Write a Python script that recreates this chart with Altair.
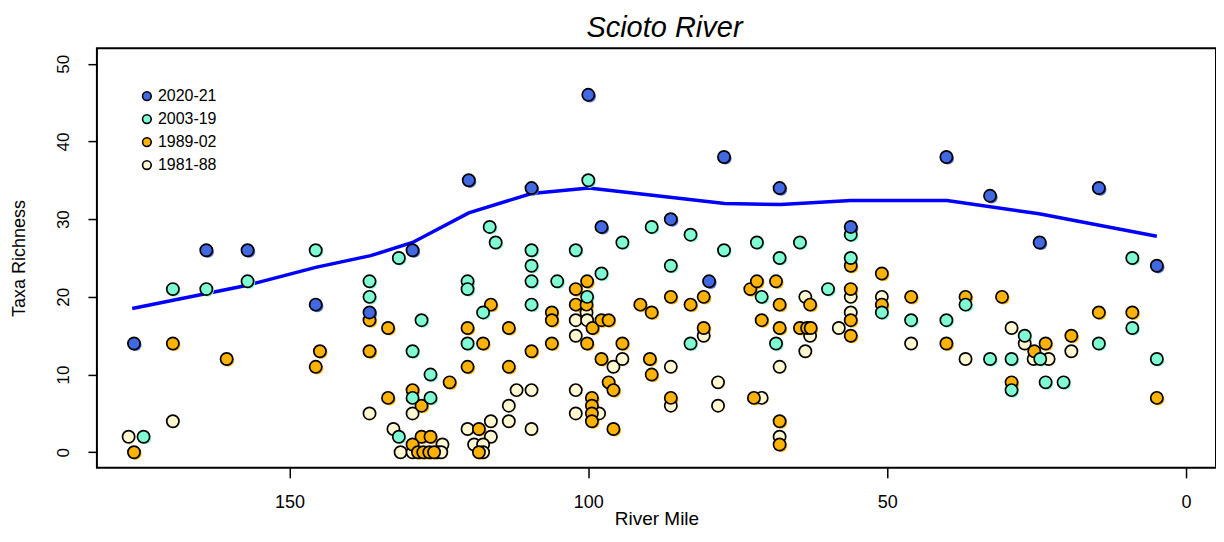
import altair as alt
import pandas as pd

groups = ["2020-21", "2003-19", "1989-02", "1981-88"]
colors = ["#4169E1", "#7FFFD4", "#FFB300", "#FFF8D0"]

x_ticks = [0, 50, 100, 150]
y_ticks = [0, 10, 20, 30, 40, 50]

# 2020-21
blue_mile = [176.0, 163.9, 157.0, 145.6, 136.6, 129.4, 120.0, 109.5, 100.0, 97.8,
             86.2, 79.8, 77.3, 68.0, 56.1, 40.1, 32.8, 24.5, 14.6, 4.9]
blue_val = [14, 26, 26, 19, 18, 26, 35, 34, 46, 29,
            30, 22, 38, 34, 29, 38, 33, 27, 34, 24]

# 2003-19
aqua_mile = [174.4, 169.5, 163.9, 157.0, 145.6, 136.6, 136.6, 131.7, 131.7, 127.9,
             129.4, 129.4, 126.4, 126.4, 120.2, 120.2, 117.6, 120.2, 116.5, 115.5,
             109.5, 109.5, 109.5, 109.5, 105.2, 102.1, 100.0, 100.2, 97.8, 94.3,
             89.4, 86.2, 82.9, 82.9, 77.3, 71.8, 71.0, 68.0, 68.6, 64.6,
             59.9, 56.1, 56.1, 50.9, 46.0, 40.1, 36.9, 32.8, 29.2, 29.2,
             27.0, 24.4, 23.5, 20.5, 14.6, 9.0, 9.0, 4.9]
aqua_val = [2, 21, 21, 22, 26, 22, 20, 25, 2, 17,
            13, 7, 10, 7, 22, 21, 18, 14, 29, 27,
            26, 24, 22, 19, 22, 26, 35, 20, 23, 27,
            29, 24, 28, 14, 26, 27, 20, 25, 14, 27,
            21, 28, 25, 18, 17, 17, 19, 12, 12, 8,
            15, 12, 9, 9, 14, 25, 16, 12]

# 1989-02
orange_mile = [176.0, 169.5, 160.5, 144.9, 145.6, 136.6, 136.6, 133.5, 133.5, 129.4,
               127.9, 127.9, 129.4, 126.4, 128.5, 127.6, 126.6, 125.8, 123.2, 120.2,
               120.2, 117.6, 116.3, 118.3, 118.3, 113.3, 113.3, 109.5, 106.1, 106.1,
               106.1, 102.1, 102.1, 100.2, 100.3, 99.3, 100.2, 99.4, 99.4, 99.4,
               99.4, 97.8, 96.6, 97.8, 96.6, 95.8, 95.8, 94.3, 91.3, 89.4,
               89.7, 89.4, 86.2, 86.2, 82.9, 80.7, 80.7, 72.9, 71.8, 68.6,
               71.0, 72.3, 68.0, 68.0, 68.0, 68.0, 64.6, 63.4, 62.8, 62.9,
               56.1, 56.1, 56.1, 56.1, 50.9, 50.9, 46.0, 40.1, 36.9, 30.8,
               29.2, 25.4, 23.5, 19.2, 14.6, 9.0, 4.9]
orange_val = [0, 14, 12, 13, 11, 17, 13, 16, 7, 8,
              6, 2, 1, 2, 0, 0, 0, 0, 9, 16,
              11, 14, 19, 3, 0, 16, 11, 13, 18, 17,
              14, 21, 19, 22, 19, 16, 14, 7, 6, 5,
              4, 17, 17, 12, 9, 8, 3, 14, 19, 18,
              12, 10, 20, 7, 19, 20, 16, 21, 22, 22,
              17, 7, 19, 16, 4, 1, 16, 16, 16, 19,
              24, 21, 17, 15, 23, 19, 20, 14, 20, 20,
              9, 13, 14, 15, 18, 18, 7]

# 1981-88
cream_mile = [176.9, 169.5, 136.6, 132.6, 131.4, 129.4, 129.4, 124.4, 125.2, 124.6,
              120.2, 116.3, 116.3, 119.1, 117.6, 117.6, 112.0, 109.5, 113.3, 113.3,
              109.5, 102.1, 102.1, 102.1, 102.1, 100.3, 100.2, 98.2, 95.8, 94.3,
              86.2, 86.2, 80.7, 78.3, 78.3, 71.0, 68.0, 68.0, 63.7, 62.9,
              63.7, 58.1, 56.1, 56.1, 50.9, 46.0, 36.9, 29.2, 27.0, 25.5,
              23.0, 19.2]
cream_val = [2, 4, 5, 3, 0, 5, 0, 1, 0, 0,
             3, 4, 2, 1, 1, 0, 8, 8, 6, 4,
             3, 17, 15, 8, 5, 18, 17, 5, 11, 12,
             11, 6, 15, 9, 6, 7, 11, 2, 20, 15,
             13, 16, 20, 18, 20, 14, 12, 16, 14, 12,
             12, 13]

line_mile = [176.3, 157.0, 145.6, 136.4, 129.4, 120.0, 109.5, 99.9, 77.2, 67.8,
             56.1, 40.0, 24.6, 4.9]
line_val = [18.5, 21.5, 23.8, 25.3, 27.0, 30.8, 33.3, 34.0, 32.0, 31.9,
            32.4, 32.4, 30.7, 27.8]

rows = []
for g, c, ms, vs in [("1981-88", colors[3], cream_mile, cream_val),
                     ("1989-02", colors[2], orange_mile, orange_val),
                     ("2003-19", colors[1], aqua_mile, aqua_val),
                     ("2020-21", colors[0], blue_mile, blue_val)]:
    for m, v in zip(ms, vs):
        rows.append({"mile": m, "taxa": v, "period": g, "col": c})
df = pd.DataFrame(rows)
df["order"] = range(len(df))
line_df = pd.DataFrame({"mile": line_mile, "taxa": line_val})

FONT = "Liberation Sans"

xscale = alt.Scale(domain=[-5, 182.2], reverse=True, nice=False, zero=False)
yscale = alt.Scale(domain=[-2, 52], nice=False, zero=False)

xaxis = alt.Axis(values=x_ticks, format="d", title="River Mile", grid=False, domain=False,
                 tickColor="black", tickSize=10, tickWidth=1.5, labelFontSize=18,
                 labelColor="black", labelPadding=16, titleFontSize=19,
                 titleFontWeight="normal", titleColor="black", titlePadding=-2,
                 labelFont=FONT, titleFont=FONT)
yaxis = alt.Axis(values=y_ticks, format="d", title="Taxa Richness", grid=False, domain=False,
                 tickColor="black", tickSize=9, tickWidth=1.5, labelFontSize=17,
                 labelColor="black", labelAngle=-90, labelAlign="center",
                 labelBaseline="bottom", labelPadding=15, titleFontSize=18,
                 titleFontWeight="normal", titleColor="black", titlePadding=26,
                 labelFont=FONT, titleFont=FONT)

shadow = alt.Chart(df).mark_point(filled=True, size=150, opacity=1, xOffset=1.5, yOffset=1.5).encode(
    x=alt.X("mile:Q", scale=xscale, axis=xaxis),
    y=alt.Y("taxa:Q", scale=yscale, axis=yaxis),
    fill=alt.Fill("col:N", scale=None),
    order=alt.Order("order:Q"),
)

points = alt.Chart(df).mark_point(filled=True, size=150, opacity=1, stroke="black",
                                  strokeWidth=1.7).encode(
    x=alt.X("mile:Q", scale=xscale),
    y=alt.Y("taxa:Q", scale=yscale),
    fill=alt.Fill("period:N", scale=alt.Scale(domain=groups, range=colors),
                  legend=alt.Legend(title=None, orient="none", legendX=42, legendY=40,
                                    symbolType="circle", symbolSize=75,
                                    symbolStrokeColor="black", symbolStrokeWidth=1.6,
                                    labelFontSize=16, labelFont=FONT, labelColor="black",
                                    rowPadding=7, labelOffset=3)),
    order=alt.Order("order:Q"),
)

line = alt.Chart(line_df).mark_line(color="#0000FF", strokeWidth=3.5).encode(
    x=alt.X("mile:Q", scale=xscale),
    y=alt.Y("taxa:Q", scale=yscale),
)

chart = alt.layer(line, shadow, points).properties(
    width=1120, height=420,
    title=alt.TitleParams("Scioto River", fontSize=29, fontStyle="italic",
                          fontWeight="normal", font=FONT, anchor="middle",
                          offset=5, dx=8, color="black"),
    autosize=alt.AutoSizeParams(type="none"),
    padding={"left": 89, "top": 40, "right": 0, "bottom": 62},
).configure_view(stroke="black", strokeWidth=2)

chart.save("out.html", embed_options={"renderer": "svg", "actions": False})
